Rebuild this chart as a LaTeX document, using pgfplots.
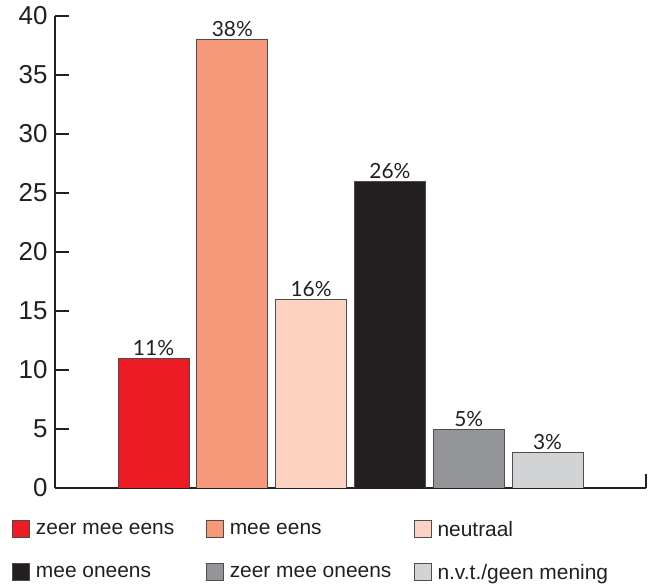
\documentclass[border=0pt]{standalone}
\usepackage{pgfplots}
\pgfplotsset{compat=1.18}
\usepackage{fontspec}
\setmainfont{Liberation Sans}
\newfontfamily\barfont{Lato}

\definecolor{ink}{HTML}{231F20}
\definecolor{edge}{HTML}{4D4D4F}
\definecolor{cA}{HTML}{ED1C24}
\definecolor{cB}{HTML}{F4997A}
\definecolor{cC}{HTML}{FCD3C1}
\definecolor{cD}{HTML}{231F20}
\definecolor{cE}{HTML}{939598}
\definecolor{cF}{HTML}{D1D3D4}

\begin{document}
\begin{tikzpicture}
\useasboundingbox (0,0) rectangle (656bp,584bp);
\begin{axis}[
    at={(55bp,96bp)}, anchor=south west,
    scale only axis,
    width=591bp, height=472bp,
    ybar, bar shift=0pt, bar width=0.9,
    xmin=-1.25, xmax=6.25,
    ymin=0, ymax=40,
    axis x line=bottom, axis y line=left,
    axis line style={-, ink, line width=1.6bp},
    tick style={ink, line width=1.6bp},
    tick align=inside,
    major tick length=14bp,
    xtick={6.25}, xticklabels={},
    ytick={0,5,...,40},
    yticklabel style={font=\fontsize{26}{28}\selectfont, text=ink, xshift=-4bp},
    /pgf/number format/assume math mode=true,
    every axis plot/.append style={draw=edge, line width=0.9bp},
    nodes near coords={\pgfmathprintnumber{\pgfplotspointmeta}\%},
    every node near coord/.append style={font=\barfont\fontsize{21}{22}\selectfont, text=ink, inner sep=2bp},
    legend columns=3,
    legend style={at={(-0.0728,-0.066)}, anchor=north west, draw=none, fill=none,
        font=\fontsize{21}{23}\selectfont, text=ink,
        inner sep=0pt, row sep=22bp,
        /tikz/every odd column/.append style={column sep=4bp}},
    legend cell align=left,
    legend image code/.code={\draw[#1, draw=edge, line width=0.8bp] (0bp,-8bp) rectangle (17bp,9bp);},
]
\addplot[fill=cA] coordinates {(0,11)};
\addlegendentry{\makebox[168bp][l]{zeer mee eens}}
\addplot[fill=cB] coordinates {(1,38)};
\addlegendentry{\makebox[182bp][l]{mee eens}}
\addplot[fill=cC] coordinates {(2,16)};
\addlegendentry{neutraal}
\addplot[fill=cD] coordinates {(3,26)};
\addlegendentry{mee oneens}
\addplot[fill=cE] coordinates {(4,5)};
\addlegendentry{zeer mee oneens}
\addplot[fill=cF] coordinates {(5,3)};
\addlegendentry{n.v.t./geen mening}
\end{axis}
\end{tikzpicture}
\end{document}
